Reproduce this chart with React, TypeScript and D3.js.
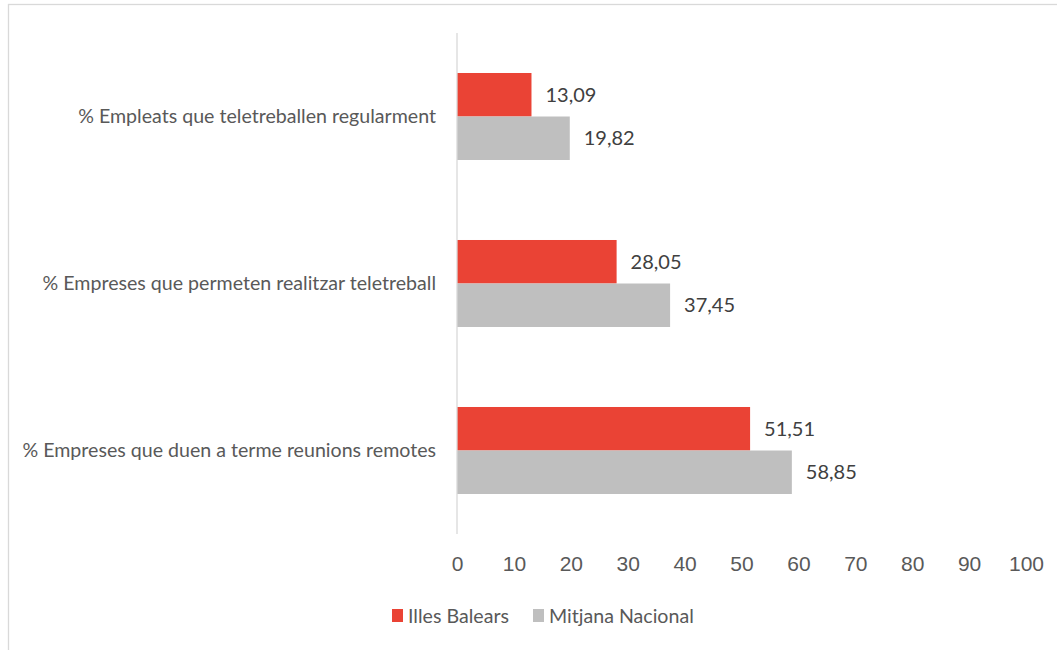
import React, { useRef, useEffect } from "react";
import * as d3 from "d3";

const CATEGORIES = [
  "% Empleats que teletreballen regularment",
  "% Empreses que permeten realitzar teletreball",
  "% Empreses que duen a terme reunions remotes",
];
const SERIES = ["Illes Balears", "Mitjana Nacional"];
const BALEARS = [13.09, 28.05, 51.51];
const NACIONAL = [19.82, 37.45, 58.85];
const X_TICKS = [0, 10, 20, 30, 40, 50, 60, 70, 80, 90, 100];
const COLORS = ["#ea4335", "#bfbfbf"];

const WIDTH = 1057;
const HEIGHT = 650;
const FONT = "Lato, 'Open Sans', sans-serif";
const TEXT = "#595959";

export default function App() {
  const svgRef = useRef<SVGSVGElement>(null);

  useEffect(() => {
    if (!svgRef.current) return;
    const svg = d3.select(svgRef.current);
    svg.selectAll("*").remove();

    // marco del gráfico
    svg
      .append("rect")
      .attr("x", 8.5)
      .attr("y", 4.5)
      .attr("width", 1100)
      .attr("height", 700)
      .attr("fill", "#fff")
      .attr("stroke", "#d9d9d9")
      .attr("stroke-width", 1.3);

    const x = d3.scaleLinear().domain([0, 100]).range([457, 1026]);
    const y0 = d3
      .scaleBand<string>()
      .domain(CATEGORIES)
      .range([33, 534])
      .paddingInner(0.479)
      .paddingOuter(0.2395);
    const y1 = d3
      .scaleBand<string>()
      .domain(SERIES)
      .range([0, y0.bandwidth()]);

    const values = [BALEARS, NACIONAL];

    // barras + etiquetas de valor
    CATEGORIES.forEach((cat, ci) => {
      const g = svg.append("g").attr("transform", `translate(0,${y0(cat)})`);
      SERIES.forEach((s, si) => {
        const v = values[si][ci];
        g.append("rect")
          .attr("x", x(0))
          .attr("y", y1(s)!)
          .attr("width", x(v) - x(0))
          .attr("height", y1.bandwidth())
          .attr("fill", COLORS[si]);
        g.append("text")
          .attr("x", x(v) + 14)
          .attr("y", y1(s)! + y1.bandwidth() / 2)
          .attr("dy", "0.35em")
          .style("font-family", FONT)
          .style("font-size", "20px")
          .style("fill", "#404040")
          .text(d3.format(".2f")(v).replace(".", ","));
      });
    });

    // eje vertical + categorías
    svg
      .append("line")
      .attr("x1", x(0))
      .attr("x2", x(0))
      .attr("y1", 33)
      .attr("y2", 534)
      .attr("stroke", "#d9d9d9")
      .attr("stroke-width", 1.3);

    svg
      .append("g")
      .selectAll("text")
      .data(CATEGORIES)
      .join("text")
      .attr("x", 436)
      .attr("y", (d) => y0(d)! + y0.bandwidth() / 2)
      .attr("dy", "0.35em")
      .attr("text-anchor", "end")
      .style("font-family", FONT)
      .style("font-size", "19.6px")
      .style("fill", TEXT)
      .text((d) => d);

    // eje X (solo etiquetas)
    const xAxis = d3
      .axisBottom(x)
      .tickValues(X_TICKS)
      .tickSize(0)
      .tickPadding(0)
      .tickFormat((d) => `${d}`);
    const ax = svg.append("g").attr("transform", "translate(0,571)").call(xAxis);
    ax.select(".domain").remove();
    ax.selectAll("text")
      .attr("dy", 0)
      .style("font-family", "'Liberation Sans', Arial, sans-serif")
      .style("font-size", "21px")
      .style("fill", TEXT);

    // leyenda
    const legendX = [392, 533];
    SERIES.forEach((s, i) => {
      const lg = svg.append("g").attr("transform", `translate(${legendX[i]},609)`);
      lg.append("rect")
        .attr("width", 11)
        .attr("height", 13)
        .attr("fill", COLORS[i]);
      lg.append("text")
        .attr("x", 16)
        .attr("y", 14)
        .style("font-family", FONT)
        .style("font-size", "19.6px")
        .style("fill", TEXT)
        .text(s);
    });
  }, []);

  return (
    <svg
      ref={svgRef}
      width={WIDTH}
      height={HEIGHT}
      style={{ position: "absolute", left: 0, top: 0, background: "#fff" }}
      viewBox={`0 0 ${WIDTH} ${HEIGHT}`}
    />
  );
}
